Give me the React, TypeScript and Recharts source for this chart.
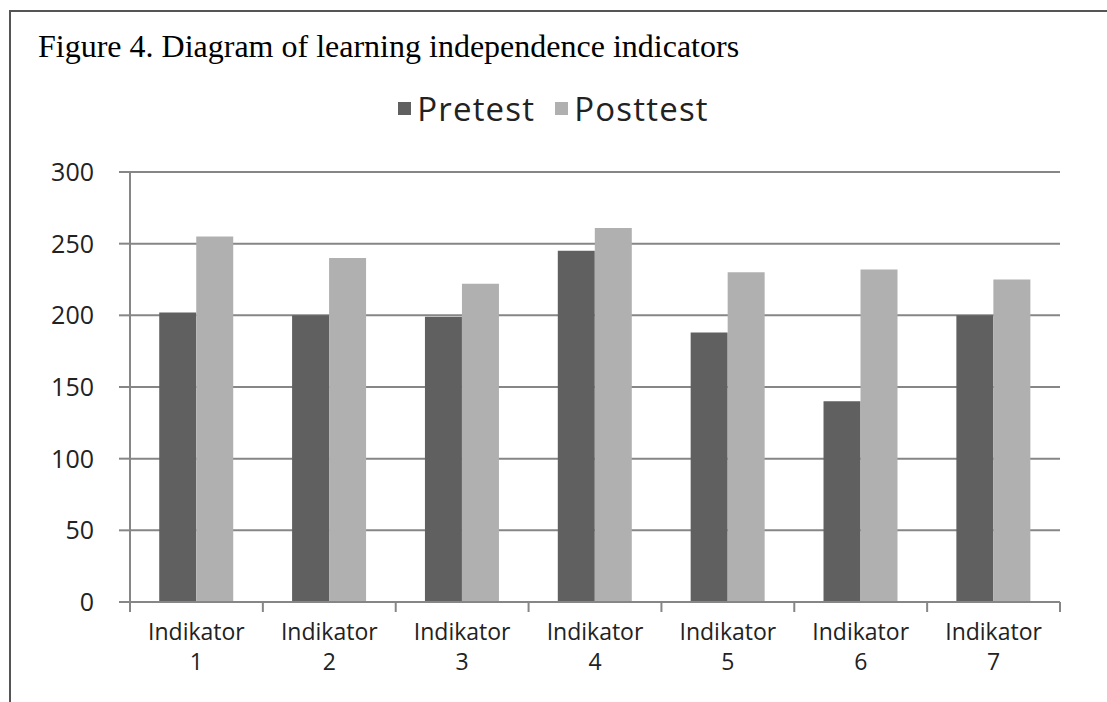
import { BarChart, Bar, XAxis, YAxis, CartesianGrid, Legend } from 'recharts'

const categories = ['Indikator 1', 'Indikator 2', 'Indikator 3', 'Indikator 4', 'Indikator 5', 'Indikator 6', 'Indikator 7']
const pretest = [202, 200, 199, 245, 188, 140, 200]
const posttest = [255, 240, 222, 261, 230, 232, 225]
const yTicks = [0, 50, 100, 150, 200, 250, 300]

const chartData = categories.map((name, i) => ({
  name,
  Pretest: pretest[i],
  Posttest: posttest[i]
}))

const AXIS = '#868686'
const FONT = '"Open Sans", sans-serif'

// plot area: x 130..1060, y 172..602, 7 bands
const PLOT_LEFT = 130
const PLOT_RIGHT = 1060
const PLOT_TOP = 172
const LEGEND_H = 40
const BAND = (PLOT_RIGHT - PLOT_LEFT) / categories.length

const CategoryTick = (props: any) => {
  const { x, y, payload, index } = props
  const [word, num] = String(payload.value).split(' ')
  const left = x - BAND / 2
  return (
    <g>
      <line x1={left} y1={y - 8} x2={left} y2={y + 2} stroke={AXIS} strokeWidth={2} />
      {index === categories.length - 1 && (
        <line x1={left + BAND} y1={y - 8} x2={left + BAND} y2={y + 2} stroke={AXIS} strokeWidth={2} />
      )}
      <text x={x} y={y + 30} textAnchor="middle" fill="#222" fontSize={23} fontFamily={FONT}>
        {word}
      </text>
      <text x={x} y={y + 60} textAnchor="middle" fill="#222" fontSize={23} fontFamily={FONT}>
        {num}
      </text>
    </g>
  )
}

const LegendContent = () => (
  <div style={{ height: LEGEND_H, display: 'flex', justifyContent: 'center', alignItems: 'center', gap: 20, fontFamily: FONT, fontSize: 33, letterSpacing: 1.2, color: '#222' }}>
    {[
      { label: 'Pretest', color: '#606060' },
      { label: 'Posttest', color: '#b0b0b0' }
    ].map(item => (
      <div key={item.label} style={{ display: 'flex', alignItems: 'center' }}>
        <span style={{ width: 13, height: 13, background: item.color, display: 'inline-block', marginRight: 6 }} />
        <span>{item.label}</span>
      </div>
    ))}
  </div>
)

export default function App() {
  return (
    <div style={{ position: 'absolute', left: 0, top: 0, width: 1107, height: 702, background: '#fff', overflow: 'hidden' }}>
      <div style={{ position: 'absolute', left: 9, top: 10, width: 1110, height: 700, borderTop: '2px solid #555', borderLeft: '2px solid #555' }} />
      <div style={{ position: 'absolute', left: 38, top: 28, fontFamily: '"Liberation Serif", "Times New Roman", serif', fontSize: 32, color: '#000', whiteSpace: 'nowrap' }}>
        Figure 4. Diagram of learning independence indicators
      </div>
      <div style={{ position: 'absolute', left: 0, top: 0 }}>
        <BarChart
          width={1107}
          height={702}
          data={chartData}
          margin={{ top: PLOT_TOP - LEGEND_H, right: 1107 - PLOT_RIGHT, bottom: 0, left: 0 }}
          barCategoryGap="22%"
          barGap={0}
        >
          <CartesianGrid vertical={false} stroke={AXIS} strokeWidth={2} />
          <XAxis
            dataKey="name"
            interval={0}
            tickLine={false}
            tick={<CategoryTick />}
            axisLine={{ stroke: AXIS, strokeWidth: 2 }}
            height={100}
          />
          <YAxis
            domain={[0, 300]}
            ticks={yTicks}
            width={PLOT_LEFT}
            tickSize={11}
            tickMargin={25}
            tickLine={{ stroke: AXIS, strokeWidth: 2 }}
            axisLine={{ stroke: AXIS, strokeWidth: 2 }}
            tick={{ fill: '#222', fontSize: 25, fontFamily: FONT }}
          />
          <Legend
            verticalAlign="top"
            content={<LegendContent />}
            wrapperStyle={{ top: 88, left: 0, width: 1107, height: LEGEND_H }}
          />
          <Bar dataKey="Pretest" fill="#606060" isAnimationActive={false} />
          <Bar dataKey="Posttest" fill="#b0b0b0" isAnimationActive={false} />
        </BarChart>
      </div>
    </div>
  )
}
